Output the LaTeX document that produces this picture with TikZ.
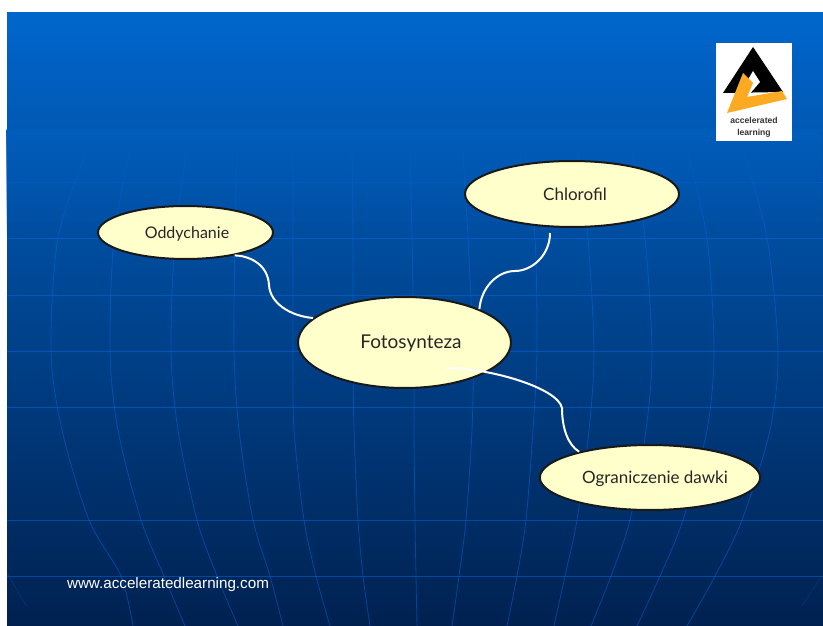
\documentclass[tikz,border=0pt]{standalone}
\usepackage{fontspec}
\setmainfont{Lato}
\newfontfamily\urlfont{Liberation Sans}
\usetikzlibrary{shapes.geometric,fadings}

\definecolor{bgtop}{RGB}{0,102,204}
\definecolor{bgmid}{RGB}{0,78,160}
\definecolor{bgbottom}{RGB}{0,33,80}
\definecolor{bgfadetop}{RGB}{0,93,187}
\definecolor{bgfadebottom}{RGB}{0,84,171}
\definecolor{gridblue}{RGB}{0,110,245}
\definecolor{bubblefill}{RGB}{255,255,204}
\definecolor{logoorange}{RGB}{253,170,35}

\tikzset{
  bubble/.style={ellipse, draw=black!90, line width=2pt, fill=bubblefill, inner sep=0pt,
    text height=14pt, text depth=2pt, text=black!85},
  link/.style={draw=white, line width=2pt},
  gridline/.style={draw=gridblue, line width=0.8pt, opacity=0.45},
}

\begin{document}
\begin{tikzpicture}[x=1pt,y=-1pt]
    \useasboundingbox (0,0) rectangle (823,626);

    % Tlo
    \shade[top color=bgtop, middle color=bgmid, bottom color=bgbottom] (7,13) rectangle (823,626);

    % Siatka
    \begin{scope}
        \clip (7,13) rectangle (823,626);
        \foreach \y in {182,238,295,351,407,520,576}
            \draw[gridline] (7,\y) -- (823,\y);
        \foreach \xa/\xb/\xc/\xd/\xe/\xf/\xg in {
            87/58/51/62/89/121/133, 130/114/110/118/141/164/185,
            187/175/171/178/197/217/238, 237/235/234/239/253/270/283,
            293/293/293/294/304/316/330, 352/353/353/354/358/363/370,
            410/412/414/414/415/416/417, 463/468/473/472/466/459/452,
            525/535/537/533/526/517/507, 578/588/594/589/577/565/554,
            632/645/652/646/630/611/591, 687/707/714/707/683/660/637,
            743/767/778/770/742/715/687}
            \draw[gridline] plot[smooth] coordinates {(\xa,150) (\xb,238) (\xc,351) (\xd,430) (\xe,520) (\xf,576) (\xg,626)};
        \draw[gridline, opacity=0.2] (7,573) -- (27,607);
        \draw[gridline, opacity=0.2] (820,579) -- (802,606);
    \end{scope}
    % Zanikanie siatki u gory
    \shade[top color=bgfadetop, bottom color=bgfadebottom, path fading=south] (7,130) rectangle (823,238);

    % Logo
    \fill[white] (716,43) rectangle (792,141);
    \fill[black] (753,47) -- (783,92) -- (723,93) -- cycle;
    \fill[white] (753,71) -- (760,82) -- (747,97) -- (742,90) -- cycle;
    \fill[logoorange] (743,73) -- (753,83) -- (747,97) -- (782,91) -- (787,99) -- (727,113) -- cycle;
    \node[font=\urlfont\bfseries\fontsize{8.6}{10}\selectfont, align=center, inner sep=0pt, text=black!80] (logotext) at (754,127.5) {accelerated\\[1.5pt]learning};

    % Elipsy
    \node[bubble, minimum width=213pt, minimum height=91pt] (fotosynteza) at (404.5,342.5) {\hspace*{13pt}\fontsize{19}{22}\selectfont Fotosynteza};
    \node[bubble, minimum width=214pt, minimum height=66pt] (chlorofil) at (572,194) {\hspace*{6pt}\fontsize{17}{20}\selectfont Chlorofil};
    \node[bubble, minimum width=175pt, minimum height=53pt] (oddychanie) at (185.5,232.5) {\hspace*{3pt}\fontsize{16}{20}\selectfont Oddychanie};
    \node[bubble, minimum width=214pt, minimum height=65pt] (ograniczenie) at (650,477.5) {\hspace*{10pt}\fontsize{17}{20}\selectfont Ograniczenie dawki};

    % Wolne konce linii
    \coordinate (chlorofilTail) at (550,233);
    \coordinate (fotosyntezaTail) at (447,368);

    % Linie
    \draw[link] (oddychanie.-25) .. controls (252,256) and (268,266) .. (269,285)
        .. controls (270,303) and (290,316) .. (fotosynteza.165);
    \draw[link] (chlorofilTail) .. controls (550,255) and (532,271) .. (515,271)
        .. controls (497,271) and (481,288) .. (fotosynteza.24);
    \draw[link] (fotosyntezaTail) .. controls (490,368) and (558,388) .. (562,408)
        .. controls (562,428) and (568,445) .. (ograniczenie.160);

    % Adres
    \node[font=\urlfont\fontsize{15.2}{18}\selectfont, text=white, inner sep=0pt] (adres) at (168,585) {www.acceleratedlearning.com};
\end{tikzpicture}
\end{document}
